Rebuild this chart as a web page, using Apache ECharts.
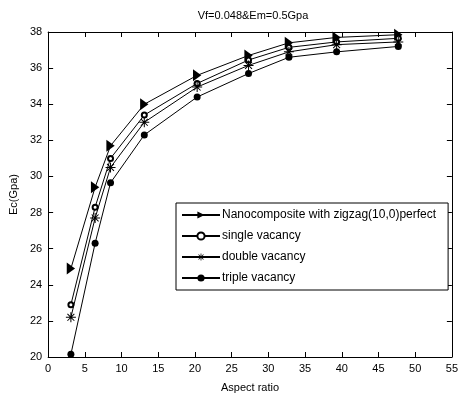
<!DOCTYPE html>
<html>
<head>
<meta charset="utf-8">
<script src="https://cdn.jsdelivr.net/npm/echarts@6/dist/echarts.min.js"></script>
<style>
  html, body { margin: 0; padding: 0; background: #fff; }
  #chart { width: 461px; height: 398px; }
</style>
</head>
<body>
<div id="chart"></div>
<script>
const aspectRatio = [3.1, 6.4, 8.5, 13.1, 20.3, 27.3, 32.8, 39.3, 47.7]
const perfect = [24.9, 29.4, 31.7, 34.0, 35.6, 36.7, 37.4, 37.7, 37.85]
const single = [22.9, 28.3, 31.0, 33.4, 35.15, 36.45, 37.15, 37.45, 37.65]
const double = [22.2, 27.7, 30.5, 33.0, 34.95, 36.15, 36.9, 37.3, 37.45]
const triple = [20.15, 26.3, 29.65, 32.3, 34.4, 35.7, 36.6, 36.9, 37.2]
const seriesNames = [
  'Nanocomposite with zigzag(10,0)perfect',
  'single vacancy',
  'double vacancy',
  'triple vacancy'
]

const FONT = '"Liberation Sans", Arial, sans-serif'
const triRight = 'path://M0,0 L10,6 L0,12 Z'
const asterisk = 'path://M4.5,0h1v10h-1z M0,4.5h10v1h-10z M1.2,1.9 L1.9,1.2 L8.8,8.1 L8.1,8.8 Z M8.1,1.2 L8.8,1.9 L1.9,8.8 L1.2,8.1 Z'

const pairs = (ys) => aspectRatio.map((x, i) => [x, ys[i]])

function mkSeries(name, ys, symbol, size, extra) {
  return Object.assign({
    name,
    type: 'line',
    data: pairs(ys),
    symbol,
    symbolSize: size,
    symbolKeepAspect: true,
    showAllSymbol: true,
    lineStyle: { color: '#000', width: 1 },
    itemStyle: { color: '#000', borderColor: '#000', borderWidth: 0 },
    emphasis: { disabled: true },
    animation: false,
    z: 3
  }, extra || {})
}

const axisCommon = {
  axisLine: { show: true, onZero: false, lineStyle: { color: '#000', width: 1 } },
  axisTick: { show: true, inside: true, length: 5, lineStyle: { color: '#000' } },
  splitLine: { show: false }
}

const chart = echarts.init(document.getElementById('chart'))
chart.setOption({
  backgroundColor: '#fff',
  animation: false,
  title: {
    text: 'Vf=0.048&Em=0.5Gpa',
    left: 248,
    textAlign: 'center',
    top: 5,
    textStyle: { fontFamily: FONT, fontSize: 11, fontWeight: 'normal', color: '#000' }
  },
  grid: { left: 45, right: 9, top: 32, bottom: 41, containLabel: false },
  legend: {
    orient: 'vertical',
    left: 176,
    top: 203,
    padding: [6, 12, 6, 5],
    itemGap: 9,
    itemWidth: 38,
    itemHeight: 9,
    backgroundColor: '#fff',
    borderColor: '#000',
    borderWidth: 1,
    textStyle: { fontFamily: FONT, fontSize: 12, color: '#000', padding: [0, 0, 0, -3] },
    data: seriesNames
  },
  xAxis: [
    Object.assign({
      type: 'value', min: 0, max: 55, interval: 5,
      name: 'Aspect ratio', nameLocation: 'middle', nameGap: 25,
      nameTextStyle: { fontFamily: FONT, fontSize: 11, color: '#000' },
      axisLabel: { fontFamily: FONT, fontSize: 11, color: '#000', margin: 6 }
    }, axisCommon),
    Object.assign({
      type: 'value', min: 0, max: 55, interval: 5, position: 'top',
      axisLabel: { show: false }
    }, axisCommon)
  ],
  yAxis: [
    Object.assign({
      type: 'value', min: 20, max: 38, interval: 2,
      name: 'Ec(Gpa)', nameLocation: 'middle', nameGap: 27, nameRotate: 90,
      nameTextStyle: { fontFamily: FONT, fontSize: 11, color: '#000' },
      axisLabel: { fontFamily: FONT, fontSize: 11, color: '#000', margin: 6 }
    }, axisCommon),
    Object.assign({
      type: 'value', min: 20, max: 38, interval: 2, position: 'right',
      axisLabel: { show: false }
    }, axisCommon)
  ],
  series: [
    mkSeries(seriesNames[0], perfect, triRight, [10, 12]),
    mkSeries(seriesNames[1], single, 'emptyCircle', 5, {
      itemStyle: { color: '#000', borderColor: '#000', borderWidth: 1 }
    }),
    mkSeries(seriesNames[2], double, asterisk, 10),
    mkSeries(seriesNames[3], triple, 'circle', 7)
  ]
})
</script>
</body>
</html>
